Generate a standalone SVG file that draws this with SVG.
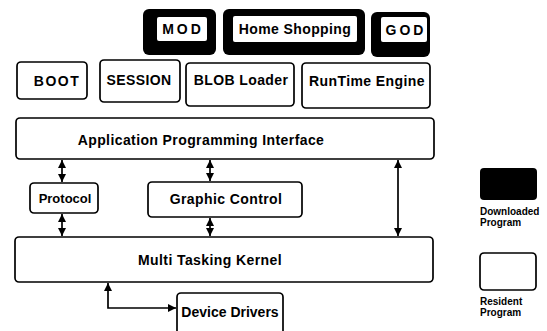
<svg xmlns="http://www.w3.org/2000/svg" width="547" height="331" viewBox="0 0 547 331">
<defs>
<marker id="ah" viewBox="0 0 10 10" refX="10" refY="5" markerWidth="8" markerHeight="8" markerUnits="userSpaceOnUse" orient="auto-start-reverse">
<path d="M0,0 L10,5 L0,10 Z" fill="#000"/>
</marker>
</defs>
<style>
.res{fill:#fff;stroke:#000;stroke-width:1.7}
.dl{fill:#000}
.in{fill:#fff}
.t{font-family:"Liberation Sans",Arial,sans-serif;font-weight:bold;font-size:14px;letter-spacing:0.4px;fill:#000;text-anchor:middle}
.s{font-size:10px;letter-spacing:0;text-anchor:start}
.c{fill:none;stroke:#000;stroke-width:1.7;marker-start:url(#ah);marker-end:url(#ah)}
</style>
<rect width="547" height="331" fill="#fff"/>
<g id="mod"><rect class="dl" x="143" y="9" width="73" height="46" rx="6"/><rect class="in" x="157" y="17" width="50" height="24" rx="2"/><text class="t" x="183" y="34" style="letter-spacing:3px">MOD</text></g>
<g id="homeshopping"><rect class="dl" x="223" y="9" width="142" height="46" rx="6"/><rect class="in" x="233" y="16" width="124" height="26" rx="2"/><text class="t" x="295" y="34">Home Shopping</text></g>
<g id="god"><rect class="dl" x="371" y="12" width="59" height="45" rx="6"/><rect class="in" x="381" y="17" width="46" height="25" rx="2"/><text class="t" x="406" y="35" style="letter-spacing:3px">GOD</text></g>
<g id="boot"><rect class="res" x="17" y="62" width="70" height="37" rx="4"/><text class="t" x="57" y="86" style="letter-spacing:1.5px">BOOT</text></g>
<g id="session"><rect class="res" x="100" y="60" width="80" height="42" rx="4"/><text class="t" x="139" y="85">SESSION</text></g>
<g id="blob"><rect class="res" x="186" y="63" width="108" height="43" rx="4"/><text class="t" x="241" y="85">BLOB Loader</text></g>
<g id="runtime"><rect class="res" x="302" y="63" width="128" height="45" rx="4"/><text class="t" x="367" y="86">RunTime Engine</text></g>
<g id="api"><rect class="res" x="16" y="118" width="418" height="41" rx="4"/><text class="t" x="201" y="145">Application Programming Interface</text></g>
<g id="protocol"><rect class="res" x="30" y="183" width="68" height="30" rx="4"/><text class="t" x="65" y="203" style="font-size:13px;letter-spacing:0">Protocol</text></g>
<g id="graphic"><rect class="res" x="148" y="182" width="154" height="35" rx="4"/><text class="t" x="226" y="204">Graphic Control</text></g>
<g id="kernel"><rect class="res" x="15" y="237" width="418" height="45" rx="4"/><text class="t" x="210" y="265">Multi Tasking Kernel</text></g>
<g id="drivers"><rect class="res" x="177" y="293" width="106" height="50" rx="4"/><text class="t" x="230" y="317" style="letter-spacing:0">Device Drivers</text></g>
<g id="legend-downloaded"><rect class="dl" x="480" y="168" width="57" height="32" rx="4"/><text class="t s" x="480" y="215">Downloaded</text><text class="t s" x="480" y="226">Program</text></g>
<g id="legend-resident"><rect class="res" x="480" y="253" width="56" height="37" rx="4"/><text class="t s" x="480" y="305">Resident</text><text class="t s" x="480" y="316">Program</text></g>
<g id="connectors">
<line class="c" x1="62" y1="160" x2="62" y2="182"/>
<line class="c" x1="62" y1="214" x2="62" y2="236"/>
<line class="c" x1="210" y1="160" x2="210" y2="181"/>
<line class="c" x1="210" y1="218" x2="210" y2="236"/>
<line class="c" x1="398" y1="160" x2="398" y2="236"/>
<path class="c" d="M108,283 L108,308 L176,308"/>
</g>
</svg>
